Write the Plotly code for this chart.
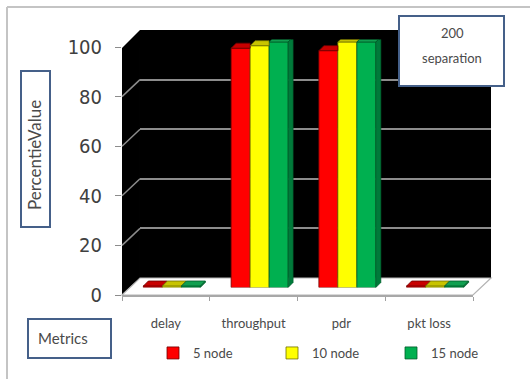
import plotly.graph_objects as go

# ---- data -------------------------------------------------------------
categories = ["delay", "throughput", "pdr", "pkt loss"]
series_names = ["5 node", "10 node", "15 node"]
node5 = [0.6, 96.5, 95.5, 0.6]
node10 = [0.6, 97.5, 99.0, 0.6]
node15 = [0.6, 99.0, 99.0, 0.6]
y_ticks = [0, 20, 40, 60, 80, 100]

series_values = [node5, node10, node15]
front_colors = ["#ff0000", "#ffff00", "#00b050"]
top_colors = ["#c80000", "#c8c400", "#10a050"]
side_colors = ["#900000", "#9a9600", "#007a3a"]
edge_colors = ["#700000", "#707000", "#005a28"]

# ---- geometry of the pseudo-3D box (pixels) ---------------------------
W, H = 530, 379
FX0, FX1 = 122, 473          # front plane, left/right
FY0, FY1 = 295, 47           # front plane, value 0 / value 100
BACK = (18, -17)             # offset of the back wall
BAR = (6, -7.5)              # offset of the bar front faces
DEPTH = (5, -5)              # projected depth of each bar

BARGAP = 0.35
NS = len(series_values)
bar_w = (1 - BARGAP) / NS
px_per_x = (FX1 - FX0) / len(categories)
px_per_y = (FY0 - FY1) / 100.0
dxu = DEPTH[0] / px_per_x
dyu = -DEPTH[1] / px_per_y


def dom_x(x0, x1):
    return [x0 / W, x1 / W]


def dom_y(y_bottom, y_top):
    return [1 - y_bottom / H, 1 - y_top / H]


def px(x):
    return x / W


def py(y):
    return 1 - y / H


def paper_path(points):
    return "M " + " L ".join(f"{px(x):.5f},{py(y):.5f}" for x, y in points) + " Z"


fig = go.Figure()

# back wall subplot (carries the horizontal gridlines)
fig.add_trace(go.Scatter(x=[0], y=[None], xaxis="x", yaxis="y",
                         showlegend=False, hoverinfo="skip"))

# bars
for name, vals, col, edge in zip(series_names, series_values, front_colors, edge_colors):
    fig.add_trace(go.Bar(
        name=name, x=categories, y=vals, xaxis="x2", yaxis="y2",
        marker=dict(color=col, line=dict(color=edge, width=0.8)),
        hoverinfo="x+y+name",
    ))

# front axis subplot (tick marks and labels)
fig.add_trace(go.Scatter(x=categories, y=[0] * len(categories), xaxis="x3", yaxis="y3",
                         mode="markers", marker=dict(opacity=0),
                         showlegend=False, hoverinfo="skip"))

shapes = []

# outer frame (top and left edges)
shapes.append(dict(type="line", xref="paper", yref="paper", x0=px(7), y0=py(7), x1=px(530), y1=py(7),
                   line=dict(color="#c4c4c4", width=2), layer="below"))
shapes.append(dict(type="line", xref="paper", yref="paper", x0=px(7), y0=py(7), x1=px(7), y1=py(379),
                   line=dict(color="#c4c4c4", width=2), layer="below"))

# walls and floor
bx, by = BACK
shapes.append(dict(type="path", xref="paper", yref="paper", layer="below",
                   path=paper_path([(FX0 + bx, FY1 + by), (FX1 + bx, FY1 + by),
                                    (FX1 + bx, FY0 + by), (FX0 + bx, FY0 + by)]),
                   fillcolor="#000000", line=dict(width=0)))
shapes.append(dict(type="path", xref="paper", yref="paper", layer="below",
                   path=paper_path([(FX0, FY1 + 1), (FX0 + bx, FY1 + by),
                                    (FX0 + bx, FY0 + by), (FX0, FY0)]),
                   fillcolor="#000000", line=dict(width=0)))
shapes.append(dict(type="path", xref="paper", yref="paper", layer="below",
                   path=paper_path([(FX0, FY0), (FX1, FY0), (FX1 + bx, FY0 + by), (FX0 + bx, FY0 + by)]),
                   fillcolor="#ffffff", line=dict(color="#b4b4b4", width=1.2)))

# gridlines running across the left side wall
for v in y_ticks[1:-1]:
    yf = FY0 - v * px_per_y
    shapes.append(dict(type="line", xref="paper", yref="paper", layer="below",
                       x0=px(FX0), y0=py(yf), x1=px(FX0 + bx), y1=py(yf + by),
                       line=dict(color="#8c8c8c", width=1.5)))

# top and side faces of the bars
for i in range(len(categories)):
    for j in range(NS):
        v = series_values[j][i]
        xc = i + (j - (NS - 1) / 2) * bar_w
        x0, x1 = xc - bar_w / 2, xc + bar_w / 2
        nxt = series_values[j + 1][i] if j + 1 < NS else None
        if nxt is not None and nxt > v:
            top = [(x0, v), (x1, v), (x1, v + dyu), (x0 + dxu, v + dyu)]
        else:
            top = [(x0, v), (x1, v), (x1 + dxu, v + dyu), (x0 + dxu, v + dyu)]
        path = "M " + " L ".join(f"{a:.5f},{b:.5f}" for a, b in top) + " Z"
        shapes.append(dict(type="path", xref="x2", yref="y2", layer="above", path=path,
                           fillcolor=top_colors[j], line=dict(color=edge_colors[j], width=0.8)))
        if nxt is None or nxt < v:
            base = 0 if nxt is None else nxt
            side = [(x1, base), (x1, v), (x1 + dxu, v + dyu), (x1 + dxu, base + dyu)]
            path = "M " + " L ".join(f"{a:.5f},{b:.5f}" for a, b in side) + " Z"
            shapes.append(dict(type="path", xref="x2", yref="y2", layer="above", path=path,
                               fillcolor=side_colors[j], line=dict(color=edge_colors[j], width=0.6)))

# text boxes
box_line = dict(color="#456089", width=2)
shapes.append(dict(type="rect", xref="paper", yref="paper", layer="above",
                   x0=px(21), y0=py(227), x1=px(50), y1=py(71),
                   fillcolor="#ffffff", line=box_line))
shapes.append(dict(type="rect", xref="paper", yref="paper", layer="above",
                   x0=px(28), y0=py(358), x1=px(111), y1=py(319),
                   fillcolor="#ffffff", line=box_line))
shapes.append(dict(type="rect", xref="paper", yref="paper", layer="above",
                   x0=px(399), y0=py(86), x1=px(504), y1=py(16),
                   fillcolor="#ffffff", line=box_line))

text_col = "#4a4a4a"
small_font = dict(family="Lato, Liberation Sans, sans-serif", size=13, color=text_col)
annotations = [
    dict(text="PercentieValue", x=px(34), y=py(155), xref="paper", yref="paper",
         showarrow=False, textangle=-90, xanchor="center", yanchor="middle",
         font=dict(family="Lato, Liberation Sans, sans-serif", size=17, color=text_col)),
    dict(text="Metrics", x=px(36), y=py(338), xref="paper", yref="paper",
         showarrow=False, xanchor="left", yanchor="middle",
         font=dict(family="Lato, Liberation Sans, sans-serif", size=15, color=text_col)),
    dict(text="200", x=px(452), y=py(33), xref="paper", yref="paper",
         showarrow=False, xanchor="center", yanchor="middle", font=small_font),
    dict(text="separation", x=px(452), y=py(58), xref="paper", yref="paper",
         showarrow=False, xanchor="center", yanchor="middle", font=small_font),
]

hidden = dict(showgrid=False, zeroline=False, showticklabels=False, showline=False,
              ticks="", automargin=False)

fig.update_layout(
    template="none",
    width=W, height=H,
    margin=dict(l=0, r=0, t=0, b=0, pad=0, autoexpand=False),
    paper_bgcolor="#ffffff",
    plot_bgcolor="rgba(0,0,0,0)",
    barmode="group", bargap=BARGAP, bargroupgap=0,
    showlegend=True,
    legend=dict(orientation="h", x=px(153), y=py(353), xanchor="left", yanchor="middle",
                font=small_font, bgcolor="rgba(0,0,0,0)",
                entrywidth=74, entrywidthmode="pixels", traceorder="normal"),
    xaxis=dict(domain=dom_x(FX0 + bx, FX1 + bx), range=[-0.5, 3.5], anchor="y", **hidden),
    yaxis=dict(domain=dom_y(FY0 + by, FY1 + by), range=[0, 100], anchor="x",
               showgrid=True, gridcolor="#8c8c8c", gridwidth=1.5,
               tickvals=y_ticks[1:-1], zeroline=False, showticklabels=False,
               showline=False, ticks="", automargin=False),
    xaxis2=dict(domain=dom_x(FX0 + BAR[0], FX1 + BAR[0]), range=[-0.5, 3.5], anchor="y2",
                type="category", categoryorder="array", categoryarray=categories, **hidden),
    yaxis2=dict(domain=dom_y(FY0 + BAR[1], FY1 + BAR[1]), range=[0, 100], anchor="x2", **hidden),
    xaxis3=dict(domain=dom_x(FX0, FX1), anchor="y3", type="category",
                categoryorder="array", categoryarray=categories, range=[-0.5, 3.5],
                tickson="boundaries", ticks="outside", ticklen=4, tickcolor="#a0a0a0",
                showline=True, linecolor="#a8a8a8", linewidth=1.5,
                showgrid=False, zeroline=False, ticklabelstandoff=16,
                tickfont=small_font, automargin=False),
    yaxis3=dict(domain=dom_y(FY0, FY1), anchor="x3", range=[0, 100], tickvals=y_ticks,
                ticks="outside", ticklen=6, tickcolor="#8c8c8c", ticklabelstandoff=9,
                showline=False, showgrid=False, zeroline=False, automargin=False,
                tickfont=dict(family="Liberation Sans Narrow, DejaVu Sans Condensed, Roboto, sans-serif",
                              size=20, color="#404040")),
    shapes=shapes,
    annotations=annotations,
)

fig.write_html("out.html")
